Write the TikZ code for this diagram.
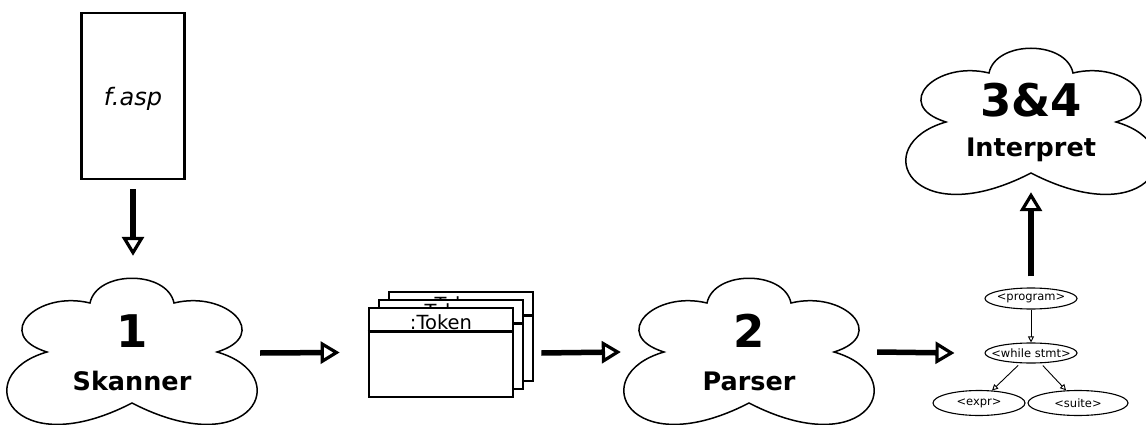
\documentclass[tikz,border=0pt]{standalone}
\usepackage{fontspec}
\setmainfont{DejaVu Sans}
\usetikzlibrary{arrows.meta,shapes.geometric}
\begin{document}
\begin{tikzpicture}[x=1pt,y=-1pt,
  bigarrow/.style={line width=5.5pt, -{Triangle[open,length=19pt,width=22pt,line width=3.2pt]}},
  smallarrow/.style={line width=0.9pt, -{Triangle[open,length=6pt,width=6pt,line width=0.9pt]}},
  cloudbox/.style={draw=none, minimum width=250pt, minimum height=148pt, inner sep=0pt},
  numtext/.style={anchor=base, inner sep=0pt, font=\fontsize{45}{45}\selectfont\bfseries},
  cloudtext/.style={anchor=base, inner sep=0pt, font=\fontsize{25.5}{25.5}\selectfont\bfseries},
  tokbox/.style={draw, line width=2.7pt, fill=white, minimum width=144pt, minimum height=89pt, inner sep=0pt},
  toktext/.style={anchor=base, inner sep=0pt, font=\fontsize{19.5}{19.5}\selectfont},
  treenode/.style={draw, ellipse, line width=1.1pt, inner sep=0pt, font=\fontsize{11.5}{12}\selectfont},
  cloud/.pic={
    \draw[line width=1.5pt, fill=white]
      (-42,-47) .. controls (-35,-80) and (35,-80) .. (42,-47)
      .. controls (95,-60) and (140,-15) .. (85,2)
      .. controls (165,25) and (120,115) .. (0,53)
      .. controls (-120,115) and (-165,25) .. (-85,2)
      .. controls (-140,-15) and (-95,-60) .. (-42,-47) -- cycle;
  }
]
\useasboundingbox (0,0) rectangle (1146,425);

% source file
\node[draw, line width=2.7pt, minimum width=103pt, minimum height=166pt, inner sep=0pt] (src) at (133,96) {};
\node[anchor=base, inner sep=0pt, font=\fontsize{24}{24}\selectfont\itshape] (srctext) at (133,106) {f.asp};

% clouds
\pic at (132,350) {cloud};
\node[cloudbox] (sk) at (132,350) {};
\node[numtext] (sknum) at (132,347) {1};
\node[cloudtext] (sklab) at (132,390) {Skanner};

\pic at (749,350) {cloud};
\node[cloudbox] (pa) at (749,350) {};
\node[numtext] (panum) at (749,347) {2};
\node[cloudtext] (palab) at (749,390) {Parser};

\pic at (1031,120) {cloud};
\node[cloudbox] (in) at (1031,120) {};
\node[numtext] (innum) at (1031,117) {3\&4};
\node[cloudtext] (inlab) at (1031,157) {Interpret};

% token stack
\node[tokbox] (tok3) at (461,336.5) {};
\draw[line width=2.7pt] ([yshift=-25pt]tok3.north west) -- ([yshift=-25pt]tok3.north east);
\node[toktext] (tok3t) at (459,311) {:Token};
\node[tokbox] (tok2) at (451,344.5) {};
\draw[line width=2.7pt] ([yshift=-25pt]tok2.north west) -- ([yshift=-25pt]tok2.north east);
\node[toktext] (tok2t) at (449,318) {:Token};
\node[tokbox] (tok1) at (441,352.5) {};
\draw[line width=2.7pt] ([yshift=-25pt]tok1.north west) -- ([yshift=-25pt]tok1.north east);
\node[toktext] (tok1t) at (441,329) {:Token};

% parse tree
\node[treenode, minimum width=92pt, minimum height=21pt] (prog) at (1031,298.5) {\makebox[0pt]{<program>}};
\node[treenode, minimum width=92pt, minimum height=20pt] (while) at (1031,353) {\makebox[0pt]{<while stmt>}};
\node[treenode, minimum width=92pt, minimum height=25pt] (expr) at (979,403) {\makebox[0pt]{<expr>}};
\node[treenode, minimum width=100pt, minimum height=25pt] (suite) at (1078,403) {\makebox[0pt]{<suite>}};

\draw[smallarrow] (prog) -- (while);
\draw[smallarrow, shorten <=3pt] (while) -- (expr);
\draw[smallarrow, shorten <=3pt] (while) -- (suite);

% main arrows
\draw[bigarrow] ([yshift=-9pt]src.south) -- ([yshift=20pt]src.south |- sk.north);
\draw[bigarrow] ([xshift=3pt,yshift=-3pt]sk.east) -- ([xshift=-28pt,yshift=0pt]tok1.west);
\draw[bigarrow] ([xshift=7pt,yshift=-0.5pt]tok3.east |- tok1.west) -- ([xshift=-3pt,yshift=-2pt]pa.west);
\draw[bigarrow] ([xshift=3pt,yshift=-2pt]pa.east) -- ([xshift=-30pt]while.west);
\draw[bigarrow] ([yshift=11pt]prog.north) -- ([yshift=2pt]in.south);
\end{tikzpicture}
\end{document}
